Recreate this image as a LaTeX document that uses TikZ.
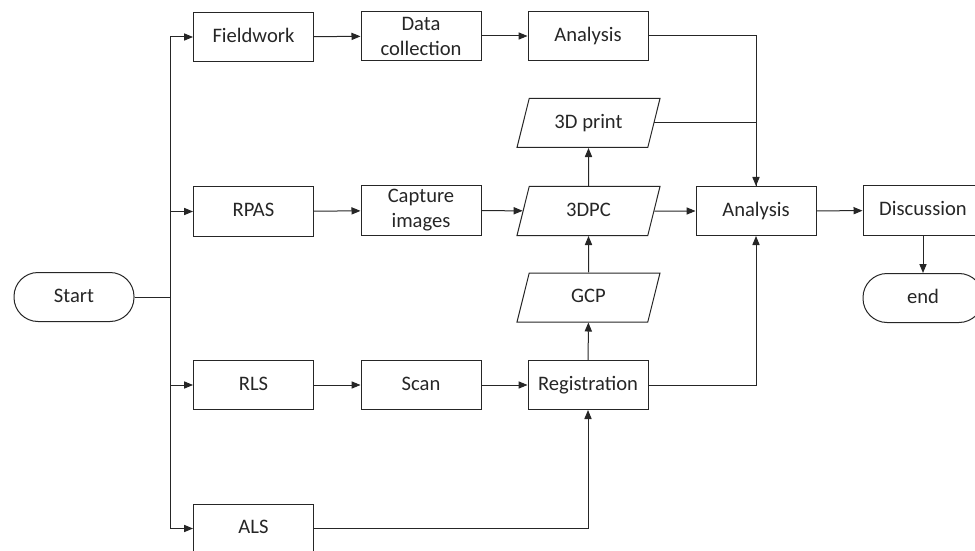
\documentclass[tikz,border=0pt]{standalone}
\usepackage{fontspec}
\setmainfont{Carlito}
\usetikzlibrary{arrows.meta,shapes.geometric}

\tikzset{box/.style={draw=black!85,line width=0.5pt,minimum width=60pt,minimum height=24.5pt,inner sep=1pt,text height=7.4pt,text depth=2.1pt,align=center,text=black!85,font=\fontsize{10.3}{12.5}\selectfont}}
\tikzset{twoline/.style={box,text height={},text depth={}}}
\tikzset{term/.style={box,rounded corners=12pt}}
\tikzset{data/.style={box,trapezium,trapezium left angle=76,trapezium right angle=104,trapezium stretches body,inner ysep=7.5pt,minimum width=71.5pt}}
\tikzset{flow/.style={draw=black!85,line width=0.5pt,-{Triangle[length=4.5pt,width=3.6pt]}}}
\tikzset{wire/.style={draw=black!85,line width=0.5pt}}

\begin{document}
\begin{tikzpicture}[x=0.5pt,y=-0.5pt]
        \clip (0,0) rectangle (975,551);
        \useasboundingbox (0,0) rectangle (975,551);
        \node[term] (st) at (74,297) {Start};
        \coordinate (bus) at (170,297);
        \node[box] (fw) at (253.5,37) {Fieldwork};
        \node[box] (rp) at (253.5,211.5) {RPAS};
        \node[box] (rl) at (253.5,385) {RLS};
        \node[box] (al) at (253.5,528.5) {ALS};
        \node[twoline] (dc) at (421,36) {Data\\collection};
        \node[twoline] (cap) at (421,210.5) {Capture\\images};
        \node[box] (sc) at (421,385) {Scan};
        \node[box] (an1) at (588,36) {Analysis};
        \node[data] (pr) at (588.5,123) {3D print};
        \node[data] (pc) at (588.5,211) {3DPC};
        \node[data] (gcp) at (588.5,297.5) {GCP};
        \node[box] (reg) at (588,385) {Registration};
        \node[box] (an2) at (756,211) {Analysis};
        \node[box] (ds) at (923,210.5) {Discussion};
        \node[term] (en) at (923,298) {end};
        \draw[wire] (st) -- (bus);
        \draw[flow] (bus) |- (fw);
        \draw[flow] (bus) |- (rp);
        \draw[flow] (bus) |- (rl);
        \draw[flow] (bus) |- (al);
        \draw[flow] (fw) -- (dc);
        \draw[flow] (dc) -- (an1);
        \draw[flow] (an1.east) -| (an2.north);
        \draw[wire] (pr.east) -| (an2.north);
        \draw[flow] (rp) -- (cap);
        \draw[flow] (cap) -- (pc);
        \draw[flow] (pc) -- (an2);
        \draw[flow] (pc) -- (pr);
        \draw[flow] (gcp) -- (pc);
        \draw[flow] (reg) -- (gcp);
        \draw[flow] (rl) -- (sc);
        \draw[flow] (sc) -- (reg);
        \draw[flow] (al.east) -| (reg.south);
        \draw[flow] (reg.east) -| (an2.south);
        \draw[flow] (an2) -- (ds);
        \draw[flow] (ds) -- (en);
    \end{tikzpicture}
\end{document}
